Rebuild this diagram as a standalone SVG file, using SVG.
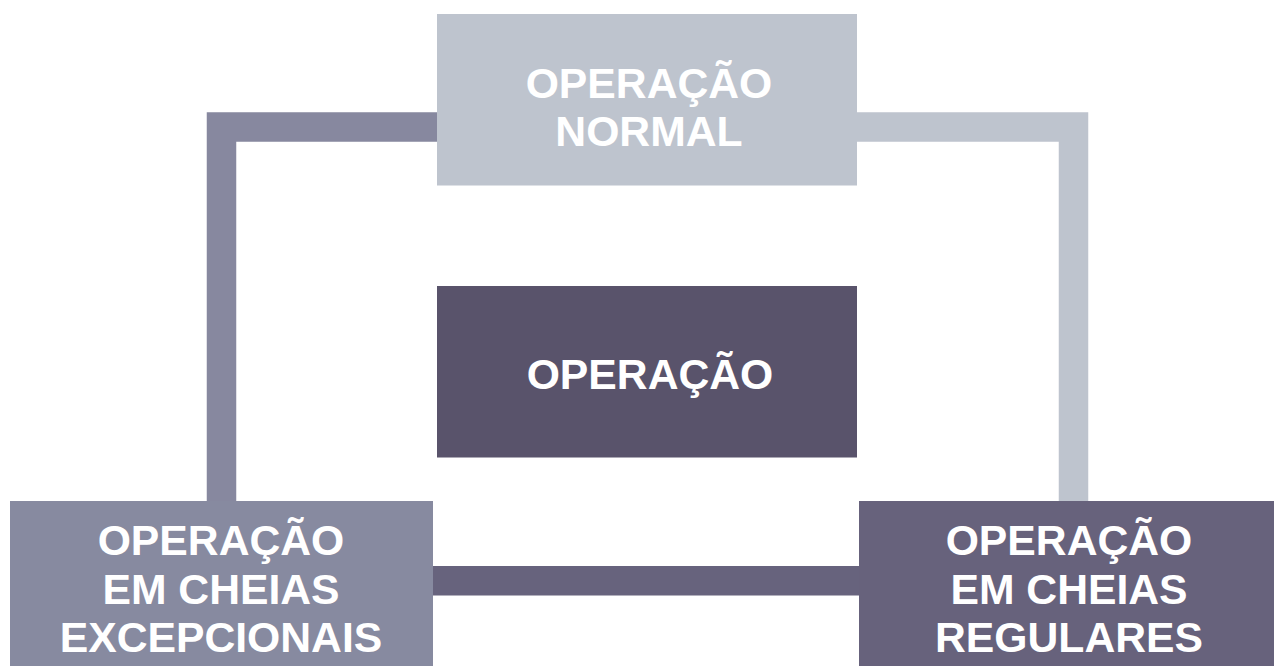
<svg xmlns="http://www.w3.org/2000/svg" width="1274" height="666" viewBox="0 0 1274 666">
<style>
.t{font-family:"Liberation Sans",Arial,sans-serif;font-weight:bold;font-size:42.7px;fill:#ffffff;text-anchor:middle}
</style>
<rect width="1274" height="666" fill="#ffffff"/>
<g id="connectors">
<path d="M437 127 H221.5 V501" fill="none" stroke="#87889f" stroke-width="29.5"/>
<path d="M857 127 H1073.5 V501" fill="none" stroke="#bec4ce" stroke-width="29.5"/>
<rect x="433" y="566" width="426" height="29.5" fill="#67637d"/>
</g>
<g id="node-normal">
<rect x="437" y="14" width="420" height="171.5" fill="#bec4ce"/>
<text class="t" x="649" y="98">OPERAÇÃO</text>
<text class="t" x="649" y="146">NORMAL</text>
</g>
<g id="node-operacao">
<rect x="437" y="286" width="420" height="171.5" fill="#59536b"/>
<text class="t" x="650" y="389">OPERAÇÃO</text>
</g>
<g id="node-excepcionais">
<rect x="10" y="501" width="423" height="170" fill="#878aa0"/>
<text class="t" x="221" y="555">OPERAÇÃO</text>
<text class="t" x="221" y="604">EM CHEIAS</text>
<text class="t" x="221" y="652">EXCEPCIONAIS</text>
</g>
<g id="node-regulares">
<rect x="859" y="501" width="420" height="170" fill="#67627c"/>
<text class="t" x="1069" y="555">OPERAÇÃO</text>
<text class="t" x="1069" y="604">EM CHEIAS</text>
<text class="t" x="1069" y="652">REGULARES</text>
</g>
</svg>
